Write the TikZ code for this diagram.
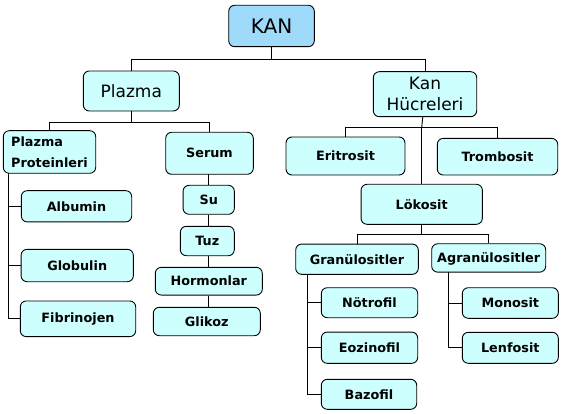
\documentclass[tikz,border=0pt]{standalone}
\usepackage{fontspec}
\setmainfont{DejaVu Sans}
\definecolor{kanblue}{RGB}{160,218,250}
\definecolor{boxcyan}{RGB}{206,255,255}
\tikzset{
  bx/.style={draw=black, line width=0.9pt, rounded corners=6pt, fill=boxcyan, inner sep=0pt, align=center},
  big/.style={bx, font=\fontsize{17}{21}\selectfont},
  small/.style={bx, font=\fontsize{12.8}{21}\selectfont\bfseries},
  ln/.style={draw=black, line width=0.9pt},
  wh/.style 2 args={minimum width=#1pt, minimum height=#2pt}
}
\begin{document}
\begin{tikzpicture}[x=1pt,y=-1pt]
\useasboundingbox (0,0) rectangle (562,414);
% top level
\node[big, fill=kanblue, font=\fontsize{20}{21}\selectfont, wh={85.6}{41.4}] (kan) at (271.5,26) {KAN};
\node[big, wh={96}{40}] (plazma) at (131.3,91) {Plazma};
\node[big, wh={103.4}{45}] (kanh) at (425,94.2) {Kan\\Hücreleri};
% plazma side
\node[small, wh={92.4}{42.6}, align=left] (pp) at (49.5,152) {Plazma\\Proteinleri};
\node[small, wh={87.6}{42}] (serum) at (209.5,153.3) {Serum};
\node[small, wh={110.4}{31.3}] (albumin) at (76.5,206.3) {Albumin};
\node[small, wh={112.3}{32.4}] (globulin) at (77.2,265.5) {Globulin};
\node[small, wh={115.4}{35.7}] (fibrinojen) at (78,318.8) {Fibrinojen};
\node[small, wh={51.3}{29}] (su) at (208.7,199.8) {Su};
\node[small, wh={54}{29.4}] (tuz) at (207.3,241) {Tuz};
\node[small, wh={107}{27.7}] (hormonlar) at (208.8,281.2) {Hormonlar};
\node[small, wh={107}{28.4}] (glikoz) at (206.8,321.5) {Glikoz};
% cell side
\node[small, wh={119}{38}] (eritrosit) at (345.5,156) {Eritrosit};
\node[small, wh={120.4}{36.7}] (trombosit) at (497.5,156.7) {Trombosit};
\node[small, wh={121.3}{40}] (lokosit) at (421.7,204.3) {Lökosit};
\node[small, wh={122.6}{30.3}] (gran) at (357,259.2) {Granülositler};
\node[small, wh={114}{28.4}, anchor=north, text depth=0pt] (agran) at (488.7,243.3) {Agranülositler};
\node[small, wh={96.4}{30}] (notrofil) at (369.5,302.7) {Nötrofil};
\node[small, wh={96.4}{31.3}] (eozinofil) at (369.5,347.7) {Eozinofil};
\node[small, wh={95.4}{30}] (bazofil) at (369,394.3) {Bazofil};
\node[small, wh={96}{30.6}] (monosit) at (510.3,303) {Monosit};
\node[small, wh={96}{31}] (lenfosit) at (510.3,347.8) {Lenfosit};
% junctions
\coordinate (j1) at (271.5,59.3);
\coordinate (j2) at (131.3,122.3);
\coordinate (j3) at (421.7,127.7);
\coordinate (j4) at (421.7,234.3);
\coordinate (ppl) at (8.3,173.3);
\coordinate (sx) at (208,174.3);
\coordinate (grl) at (307.3,274.3);
\coordinate (agl) at (448.7,271.7);
% connectors
\draw[ln] (kan) -- (j1);
\draw[ln] (plazma.north) |- (j1) -| (kanh.north);
\draw[ln] (plazma) -- (j2);
\draw[ln] (pp.north) |- (j2) -| (serum.north);
\draw[ln] (kanh) -- (j3);
\draw[ln] (eritrosit.north) |- (j3) -| (trombosit.north);
\draw[ln] (j3) -- (lokosit.north);
\draw[ln] (lokosit) -- (j4);
\draw[ln] (gran.north) |- (j4) -| (agran.north);
\draw[ln] (sx) -- (sx |- su.north);
\draw[ln] (sx |- su.south) -- (sx |- tuz.north);
\draw[ln] (sx |- tuz.south) -- (sx |- hormonlar.north);
\draw[ln] (sx |- hormonlar.south) -- (sx |- glikoz.north);
\draw[ln] (ppl) |- (fibrinojen.west);
\draw[ln] (ppl |- albumin.west) -- (albumin.west);
\draw[ln] (ppl |- globulin.west) -- (globulin.west);
\draw[ln] (grl) |- (bazofil.west);
\draw[ln] (grl |- notrofil.west) -- (notrofil.west);
\draw[ln] (grl |- eozinofil.west) -- (eozinofil.west);
\draw[ln] (agl) |- (lenfosit.west);
\draw[ln] (agl |- monosit.west) -- (monosit.west);
\end{tikzpicture}
\end{document}
